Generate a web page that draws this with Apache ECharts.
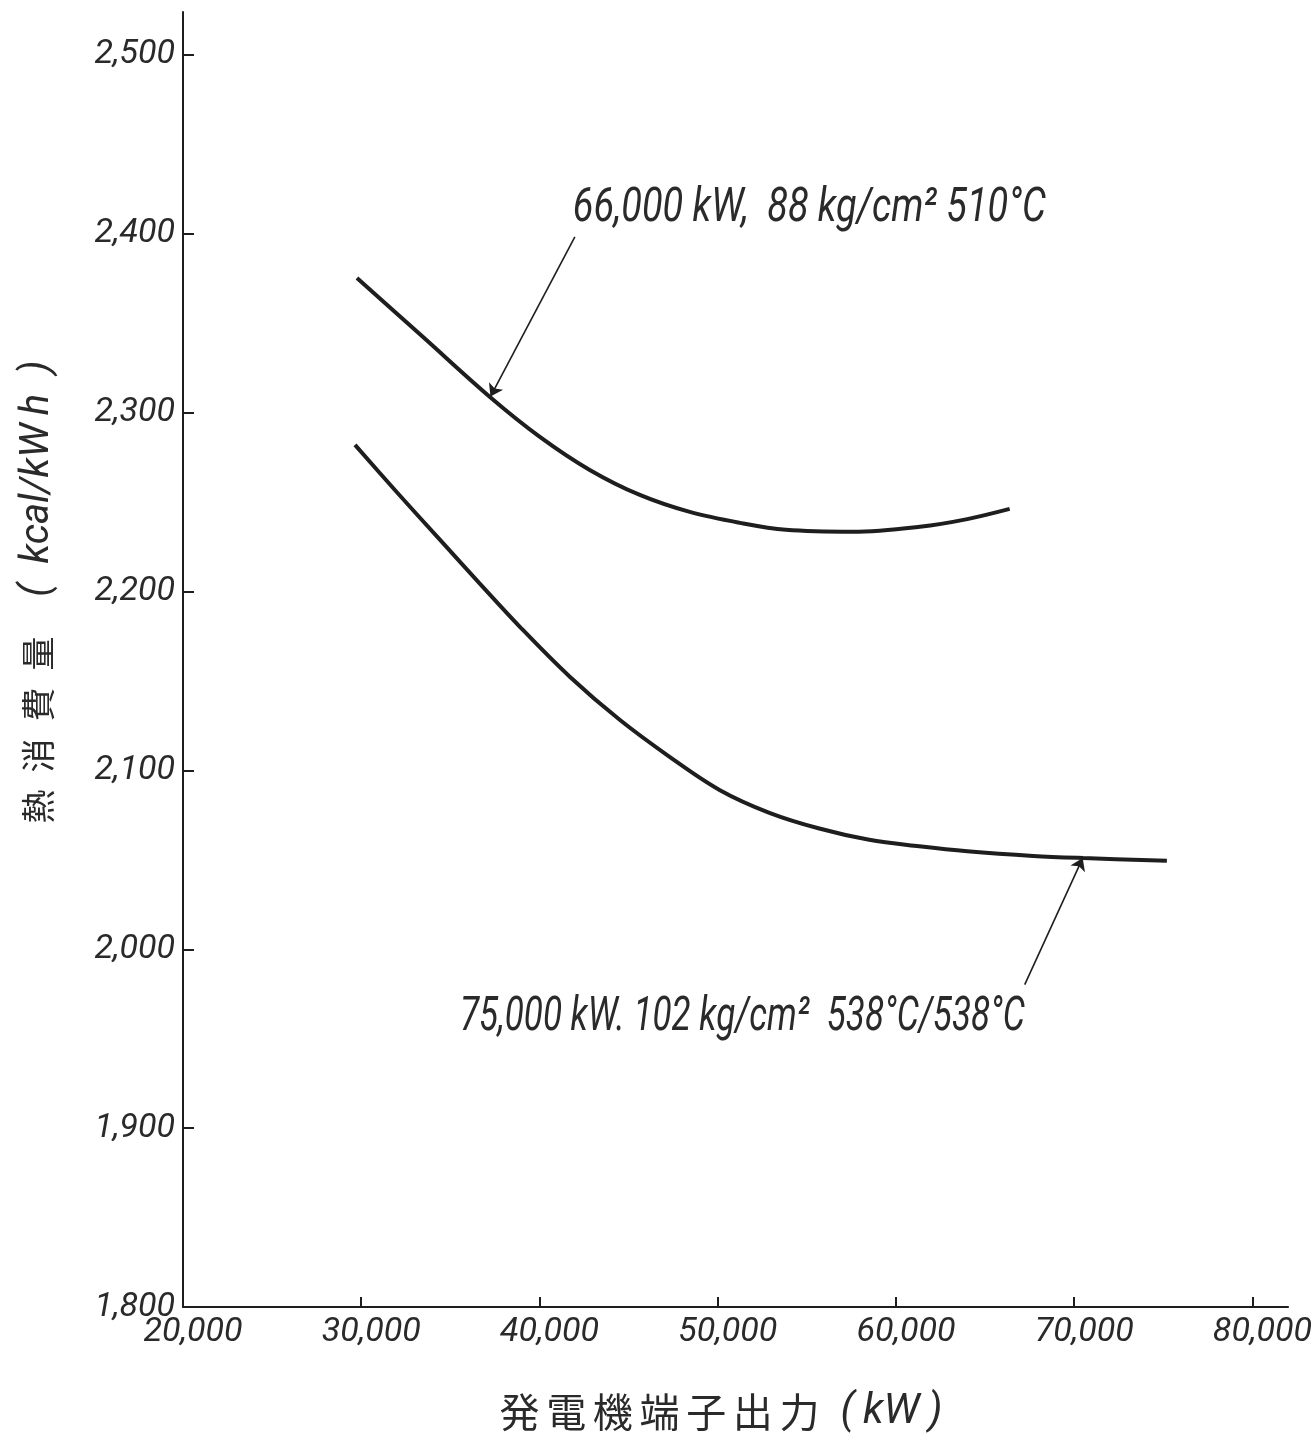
<!DOCTYPE html>
<html><head><meta charset="utf-8">
<script src="https://cdn.jsdelivr.net/npm/echarts@6/dist/echarts.min.js"></script>
<style>html,body{margin:0;padding:0;background:#fff}#c{width:1315px;height:1448px}</style>
</head><body><div id="c"></div>
<script>
const xTickValues = [20000, 30000, 40000, 50000, 60000, 70000, 80000];
const yTickValues = [1800, 1900, 2000, 2100, 2200, 2300, 2400, 2500];
const upperLoad = [29760, 33500, 37220, 40020, 42820, 45630, 48430, 51240, 53820, 57580, 61340, 64000, 66380];
const upperHeat = [2375.3, 2342, 2308.8, 2286.5, 2268, 2254, 2244.5, 2238.4, 2234.5, 2233.4, 2236.2, 2240.5, 2246.2];
const lowerLoad = [29650, 32000, 34410, 36600, 38900, 41700, 44500, 47300, 50100, 52900, 55700, 58500, 61300, 64000, 67700, 70500, 75200];
const lowerHeat = [2282, 2255.5, 2229, 2205, 2180.3, 2152.4, 2128.3, 2107.6, 2089.1, 2076.3, 2067.5, 2061.2, 2057.6, 2054.8, 2052.2, 2051, 2049.5];
const seriesNames = ['66,000 kW,  88 kg/cm² 510°C', '75,000 kW. 102 kg/cm²  538°C/538°C'];
const labelAnchors = [[41871, 2413.9], [35534, 1961.5]];
const arrowFrom = [[41985, 2398.3], [67224, 1980.2]];
const arrowTo = [[37250, 2309], [70477, 2051]];

const ink = '#1e1e1e';
const textInk = '#2a2a2a';
const latin = "Roboto, 'Liberation Sans', sans-serif";
const cjk = "'Noto Sans CJK JP', 'Noto Sans CJK SC', sans-serif";
const fmt = v => Number(v).toLocaleString('en-US');
const zip = (a, b) => a.map((v, i) => [v, b[i]]);

function makeSeries(idx, load, heat) {
  return {
    name: seriesNames[idx],
    type: 'line',
    data: zip(load, heat),
    smooth: 0.35,
    showSymbol: false,
    symbol: 'none',
    lineStyle: { color: ink, width: 4 },
    silent: true,
    animation: false,
    markLine: {
      silent: true,
      animation: false,
      symbol: ['none', 'arrow'],
      symbolSize: 12,
      label: { show: false },
      lineStyle: { color: ink, width: 1.6, type: 'solid' },
      data: [[{ coord: arrowFrom[idx] }, { coord: arrowTo[idx] }]]
    }
  };
}

const chart = echarts.init(document.getElementById('c'), null, { renderer: 'canvas' });
chart.setOption({
  backgroundColor: '#ffffff',
  animation: false,
  grid: { left: 183, right: 26.5, top: 12, bottom: 141, containLabel: false },
  xAxis: {
    type: 'value', min: 20000, max: 82000,
    axisLine: { lineStyle: { color: ink, width: 2 } },
    axisTick: { inside: true, length: 10, lineStyle: { color: ink, width: 2 }, customValues: xTickValues.slice(1) },
    axisLabel: { customValues: xTickValues, formatter: fmt, margin: 8, padding: [0, 0, 0, 20], color: textInk, fontSize: 34, fontStyle: 'italic', fontFamily: latin },
    splitLine: { show: false }
  },
  yAxis: {
    type: 'value', min: 1800, max: 2524,
    axisLine: { show: true, lineStyle: { color: ink, width: 2 } },
    axisTick: { show: true, inside: true, length: 11, lineStyle: { color: ink, width: 2 }, customValues: yTickValues.slice(1) },
    axisLabel: { customValues: yTickValues, formatter: fmt, margin: 8, color: textInk, fontSize: 34, fontStyle: 'italic', fontFamily: latin },
    splitLine: { show: false }
  },
  graphic: [
    {
      id: 'ytitle', type: 'text', x: 38, y: 592, rotation: Math.PI / 2,
      style: {
        text: '{a|熱\u2002消\u2002費\u2002量}{b|\u2003(\u2002kcal/kW\u2009h\u2002)}',
        align: 'center', verticalAlign: 'middle',
        rich: {
          a: { fontSize: 34, fontFamily: cjk, fill: textInk },
          b: { fontSize: 40, fontFamily: latin, fontStyle: 'italic', fill: textInk }
        }
      }
    },
    {
      id: 'xtitle', type: 'text', x: 721, y: 1412,
      style: {
        text: '{a|発\u2006電\u2006機\u2006端\u2006子\u2006出\u2006力}{b|\u2002(\u2009kW\u2009)}',
        align: 'center', verticalAlign: 'middle',
        rich: {
          a: { fontSize: 40, fontFamily: cjk, fill: textInk },
          b: { fontSize: 42, fontFamily: latin, fontStyle: 'italic', fill: textInk }
        }
      }
    }
  ],
  series: [
    makeSeries(0, upperLoad, upperHeat),
    makeSeries(1, lowerLoad, lowerHeat)
  ]
});

// annotation labels: placed at data anchors, condensed horizontally like the original lettering
const annoWidths = [473, 565];
const annoFont = 48;
const ctx = document.createElement('canvas').getContext('2d');
ctx.font = 'italic ' + annoFont + 'px ' + latin;
const annoGraphics = seriesNames.map((name, i) => {
  const p = chart.convertToPixel({ gridIndex: 0 }, labelAnchors[i]);
  const w = ctx.measureText(name).width;
  return {
    id: 'anno' + i, type: 'text', x: p[0], y: p[1],
    scaleX: annoWidths[i] / w, scaleY: 1,
    style: {
      text: name, fontSize: annoFont, fontStyle: 'italic', fontFamily: latin,
      fill: textInk, align: 'left', verticalAlign: 'middle'
    }
  };
});
chart.setOption({ graphic: annoGraphics });
</script></body></html>
